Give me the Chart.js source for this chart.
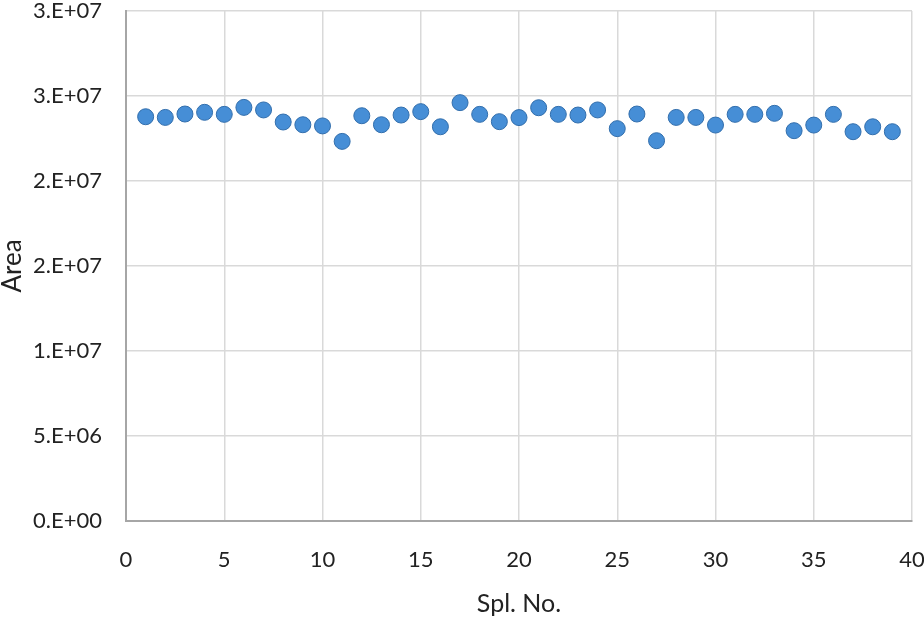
<!DOCTYPE html>
<html>
<head>
<meta charset="utf-8">
<script src="https://cdn.jsdelivr.net/npm/chart.js@4"></script>
<style>
  html, body { margin: 0; padding: 0; background: #fff; }
  #wrap { width: 924px; height: 620px; }
</style>
</head>
<body>
<div id="wrap"><canvas id="areaChart" width="924" height="620"></canvas></div>
<script>
// sample numbers and measured areas
const sampleNo = [1,2,3,4,5,6,7,8,9,10,11,12,13,14,15,16,17,18,19,20,
                  21,22,23,24,25,26,27,28,29,30,31,32,33,34,35,36,37,38,39];
const areaValues = [
  23.78e6, 23.74e6, 23.94e6, 24.04e6, 23.92e6, 24.33e6, 24.18e6, 23.47e6, 23.31e6, 23.24e6,
  22.33e6, 23.84e6, 23.31e6, 23.88e6, 24.08e6, 23.19e6, 24.61e6, 23.92e6, 23.49e6, 23.73e6,
  24.31e6, 23.92e6, 23.88e6, 24.18e6, 23.08e6, 23.94e6, 22.37e6, 23.74e6, 23.74e6, 23.29e6,
  23.92e6, 23.92e6, 23.98e6, 22.96e6, 23.29e6, 23.92e6, 22.90e6, 23.19e6, 22.90e6
];
// Excel style labels, one per 5E6 step
const yTickLabels = ['0.E+00','5.E+06','1.E+07','2.E+07','2.E+07','3.E+07','3.E+07'];

const ctx = document.getElementById('areaChart').getContext('2d');
const font = 'Lato, "Open Sans", sans-serif';

new Chart(ctx, {
    type: 'scatter',
    data: {
        datasets: [{
            label: 'Area',
            data: sampleNo.map((n, i) => ({ x: n, y: areaValues[i] })),
            backgroundColor: 'rgb(70,142,214)',
            borderColor: 'rgb(50,110,172)',
            borderWidth: 1,
            pointRadius: 8,
            pointHoverRadius: 8
        }]
    },
    options: {
        responsive: false,
        animation: false,
        layout: { padding: { top: 11, right: 12, left: 0, bottom: 0 } },
        plugins: { legend: { display: false }, tooltip: { enabled: false } },
        scales: {
            x: {
                type: 'linear',
                min: 0, max: 40,
                ticks: { stepSize: 5, padding: 26, color: '#222', font: { family: font, size: 22 } },
                grid: { color: '#d9d9d9', lineWidth: 1.5, drawTicks: false },
                border: { color: '#a6a6a6', width: 2 },
                title: { display: true, text: 'Spl. No.', color: '#222',
                         font: { family: font, size: 25 }, padding: { top: 0, bottom: 1 } },
                afterFit: s => { s.height = 99; s.paddingLeft = 0; s.paddingRight = 0; }
            },
            y: {
                min: 0, max: 30000000,
                ticks: {
                    stepSize: 5000000, padding: 24, color: '#222',
                    font: { family: font, size: 22 },
                    callback: (v) => yTickLabels[Math.round(v / 5000000)]
                },
                grid: { color: '#d9d9d9', lineWidth: 1.5, drawTicks: false },
                border: { color: '#a6a6a6', width: 2 },
                title: { display: true, text: 'Area', color: '#222',
                         font: { family: font, size: 26, lineHeight: 1 }, padding: { top: 0, bottom: 0 } },
                afterFit: s => { s.width = 126; s.paddingTop = 0; s.paddingBottom = 0; }
            }
        }
    }
});
</script>
</body>
</html>
